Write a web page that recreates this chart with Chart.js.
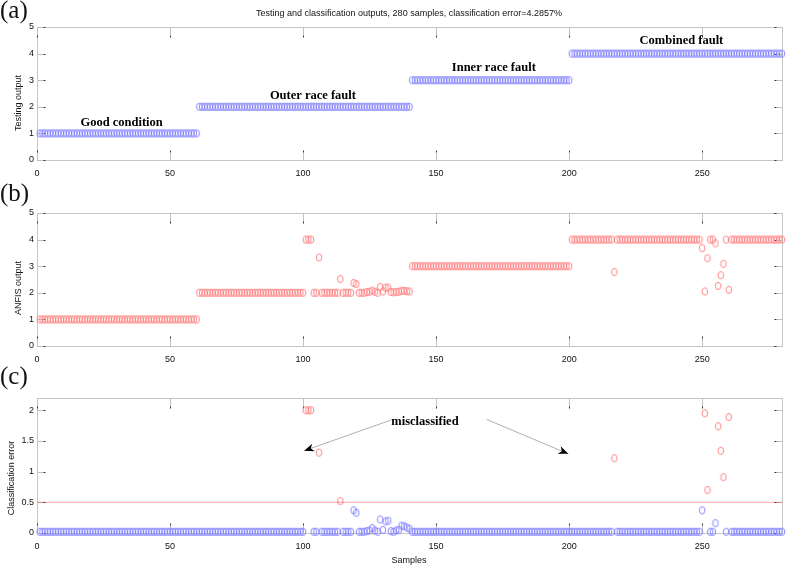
<!DOCTYPE html>
<html lang="en">

<head>
  <meta charset="UTF-8">
  <title>Testing and classification outputs</title>
  <script src="https://cdn.jsdelivr.net/npm/chart.js"></script>
  <style>
    body {
      margin: 0;
      background: #fff;
    }

    #page {
      position: relative;
      width: 787px;
      height: 565px;
      overflow: hidden;
      font-family: "Liberation Sans", Arial, sans-serif;
      color: #111;
    }

    canvas {
      position: absolute;
      left: 0;
      top: 0;
    }

    .txt {
      position: absolute;
      white-space: nowrap;
      font-size: 9px;
      line-height: 10px;
      transform: translate(-50%, -50%);
    }

    .ylab {
      transform: translate(-50%, -50%) rotate(-90deg);
    }

    .panel {
      position: absolute;
      left: 0;
      font-family: "Liberation Serif", "Times New Roman", serif;
      font-size: 25px;
      line-height: 24px;
    }
  </style>
</head>

<body>
<div id="page">
  <canvas id="chartA" width="787" height="565"></canvas>
  <canvas id="chartB" width="787" height="565"></canvas>
  <canvas id="chartC" width="787" height="565"></canvas>

  <div class="txt" style="left:409px; top:13px;">Testing and classification outputs, 280 samples, classification error=4.2857%</div>
  <div class="panel" style="top:-2px;">(a)</div>
  <div class="panel" style="top:181px;">(b)</div>
  <div class="panel" style="top:364px;">(c)</div>
  <div class="txt ylab" style="left:18px; top:103px;">Testing output</div>
  <div class="txt ylab" style="left:18px; top:288px;">ANFIS output</div>
  <div class="txt ylab" style="left:11px; top:478px;">Classification error</div>
  <div class="txt" style="left:409px; top:560px;">Samples</div>
</div>

<script>
  // ---- data ----
  const sampleCount = 280;
  // [first sample, last sample, class]
  const classRuns = [[1, 60, 1], [61, 140, 2], [141, 200, 3], [201, 280, 4]];

  // ANFIS outputs that are not on the class value
  const anfisSamples = [101, 102, 103, 106, 114, 119, 120, 124, 125, 126, 127, 129, 130, 131, 132,
    133, 134, 135, 136, 137, 138, 139, 140,
    217, 250, 251, 252, 255, 256, 257, 258, 260];
  const anfisValues = [4, 4, 4, 3.33, 2.52, 2.37, 2.33, 2.03, 2.04, 2.08, 2.04, 2.22, 2.05, 2.19, 2.2,
    2.03, 2.02, 2.03, 2.04, 2.08, 2.07, 2.06, 2.05,
    2.78, 3.68, 2.05, 3.3, 3.86, 2.26, 2.66, 3.09, 2.11];

  // classification error, rest of the samples sit on errorBase
  const errorBase = 0.02;
  const errorSamples = [101, 102, 103, 106, 114, 119, 120, 124, 125, 126, 127, 129, 130, 131, 132,
    133, 134, 135, 136, 137, 138, 139, 140,
    217, 250, 251, 252, 255, 256, 257, 258, 260];
  const errorValues = [2, 2, 2, 1.31, 0.52, 0.37, 0.33, 0.03, 0.04, 0.08, 0.04, 0.22, 0.05, 0.19, 0.2,
    0.03, 0.02, 0.04, 0.05, 0.12, 0.11, 0.09, 0.07,
    1.22, 0.37, 1.95, 0.7, 0.16, 1.74, 1.34, 0.91, 1.89];
  const errorLimit = 0.5;

  const xTicks = [0, 50, 100, 150, 200, 250];
  const outTicks = [0, 1, 2, 3, 4, 5];
  const errTicks = [0, 0.5, 1, 1.5, 2];

  // ---- build series ----
  const target = [];
  classRuns.forEach(([a, b, c]) => {
    for (let s = a; s <= b; s++) target.push({ x: s, y: c });
  });
  const anfis = target.map(p => {
    const k = anfisSamples.indexOf(p.x);
    return { x: p.x, y: k >= 0 ? anfisValues[k] : p.y };
  });
  const errors = target.map(p => {
    const k = errorSamples.indexOf(p.x);
    return { x: p.x, y: k >= 0 ? errorValues[k] : errorBase };
  });

  // MATLAB-like open circle marker
  function ring(color) {
    const c = document.createElement('canvas');
    c.width = 8;
    c.height = 10;
    const g = c.getContext('2d');
    g.strokeStyle = color;
    g.lineWidth = 0.9;
    g.beginPath();
    g.ellipse(4, 5, 2.8, 3.6, 0, 0, Math.PI * 2);
    g.stroke();
    return c;
  }
  const blueRing = ring('#7a7aff');
  const redRing = ring('#ff7a7a');

  const tickFont = { family: '"Liberation Sans", Arial, sans-serif', size: 9 };

  function scales(yMax, yTicks) {
    return {
      x: {
        type: 'linear', min: 0, max: sampleCount,
        grid: { display: false, drawTicks: false }, border: { display: false },
        afterBuildTicks: s => { s.ticks = xTicks.map(v => ({ value: v })); },
        afterFit: s => { s.height = 20; },
        ticks: { font: tickFont, color: '#111', padding: 8, maxRotation: 0, autoSkip: false, callback: v => String(v) }
      },
      y: {
        type: 'linear', min: 0, max: yMax,
        grid: { display: false, drawTicks: false }, border: { display: false },
        afterBuildTicks: s => { s.ticks = yTicks.map(v => ({ value: v })); },
        afterFit: s => { s.width = 37; },
        ticks: { font: tickFont, color: '#111', padding: 3, autoSkip: false, callback: v => String(v) }
      }
    };
  }

  // box, inside ticks, text notes and arrows
  function frame(notes, arrows) {
    return {
      id: 'frame',
      beforeDatasetsDraw(chart) {
        const { ctx, chartArea: a, scales: { x, y } } = chart;
        const L = Math.round(a.left) + 0.5, R = Math.round(a.right) + 0.5;
        const T = Math.round(a.top) + 0.5, B = Math.round(a.bottom) + 0.5;
        ctx.save();
        ctx.lineWidth = 1;
        ctx.strokeStyle = '#c6c6c6';
        ctx.strokeRect(L, T, R - L, B - T);
        const tick = (x1, y1, x2, y2, x3, y3) => {
          ctx.strokeStyle = '#c0c0c0';
          ctx.beginPath(); ctx.moveTo(x1, y1); ctx.lineTo(x2, y2); ctx.stroke();
          ctx.strokeStyle = '#333';
          ctx.beginPath(); ctx.moveTo(x2, y2); ctx.lineTo(x3, y3); ctx.stroke();
        };
        x.ticks.forEach(t => {
          const px = Math.round(x.getPixelForValue(t.value)) + 0.5;
          tick(px, B, px, B - 8, px, B - 10);
          tick(px, T, px, T + 8, px, T + 10);
        });
        y.ticks.forEach(t => {
          const py = Math.round(y.getPixelForValue(t.value)) + 0.5;
          tick(L, py, L + 6, py, L + 8, py);
          tick(R, py, R - 6, py, R - 8, py);
        });
        ctx.restore();
      },
      afterDatasetsDraw(chart) {
        const { ctx, scales: { x, y } } = chart;
        ctx.save();
        ctx.fillStyle = '#000';
        ctx.font = 'bold 12.5px "Liberation Serif", "Times New Roman", serif';
        ctx.textAlign = 'center';
        ctx.textBaseline = 'middle';
        notes.forEach(n => ctx.fillText(n.text, x.getPixelForValue(n.x), y.getPixelForValue(n.y)));
        arrows.forEach(ar => {
          const x1 = x.getPixelForValue(ar.from[0]), y1 = y.getPixelForValue(ar.from[1]);
          const x2 = x.getPixelForValue(ar.to[0]), y2 = y.getPixelForValue(ar.to[1]);
          const ang = Math.atan2(y2 - y1, x2 - x1);
          ctx.strokeStyle = '#b0b0b0';
          ctx.lineWidth = 1;
          ctx.beginPath(); ctx.moveTo(x1, y1); ctx.lineTo(x2, y2); ctx.stroke();
          ctx.translate(x2, y2);
          ctx.rotate(ang);
          ctx.beginPath();
          ctx.moveTo(0, 0);
          ctx.lineTo(-10, -4);
          ctx.lineTo(-7, 0);
          ctx.lineTo(-10, 4);
          ctx.closePath();
          ctx.fill();
          ctx.setTransform(1, 0, 0, 1, 0, 0);
        });
        ctx.restore();
      }
    };
  }

  function layout(top, bottom) {
    return { padding: { left: 0, right: 3, top: top, bottom: 565 - bottom - 20 } };
  }

  const common = {
    responsive: false,
    animation: false,
    events: [],
    plugins: { legend: { display: false }, tooltip: { enabled: false } }
  };

  function ringSet(data, style) {
    return { type: 'scatter', data: data, pointStyle: style, pointRadius: 4, showLine: false, clip: false };
  }

  new Chart(document.getElementById('chartA'), {
    type: 'scatter',
    data: { datasets: [ringSet(target, blueRing)] },
    options: Object.assign({}, common, { layout: layout(27, 160), scales: scales(5, outTicks) }),
    plugins: [frame([
      { text: 'Good condition', x: 31.8, y: 1.39 },
      { text: 'Outer race fault', x: 103.7, y: 2.4 },
      { text: 'Inner race fault', x: 171.7, y: 3.46 },
      { text: 'Combined fault', x: 242.2, y: 4.47 }
    ], [])]
  });

  new Chart(document.getElementById('chartB'), {
    type: 'scatter',
    data: { datasets: [ringSet(anfis, redRing)] },
    options: Object.assign({}, common, { layout: layout(213, 346), scales: scales(5, outTicks) }),
    plugins: [frame([], [])]
  });

  new Chart(document.getElementById('chartC'), {
    type: 'scatter',
    data: {
      datasets: [
        {
          type: 'line', data: [{ x: 0, y: errorLimit }, { x: sampleCount, y: errorLimit }],
          borderColor: 'rgba(255,0,0,0.35)', borderWidth: 1, pointRadius: 0, clip: false
        },
        ringSet(errors.filter(p => p.y <= errorLimit), blueRing),
        ringSet(errors.filter(p => p.y > errorLimit), redRing)
      ]
    },
    options: Object.assign({}, common, { layout: layout(398, 533), scales: scales(2.2, errTicks) }),
    plugins: [frame([{ text: 'misclassified', x: 145.8, y: 1.81 }], [
      { from: [133, 1.84], to: [100.4, 1.34] },
      { from: [169, 1.85], to: [199.7, 1.29] }
    ])]
  });
</script>
</body>

</html>
